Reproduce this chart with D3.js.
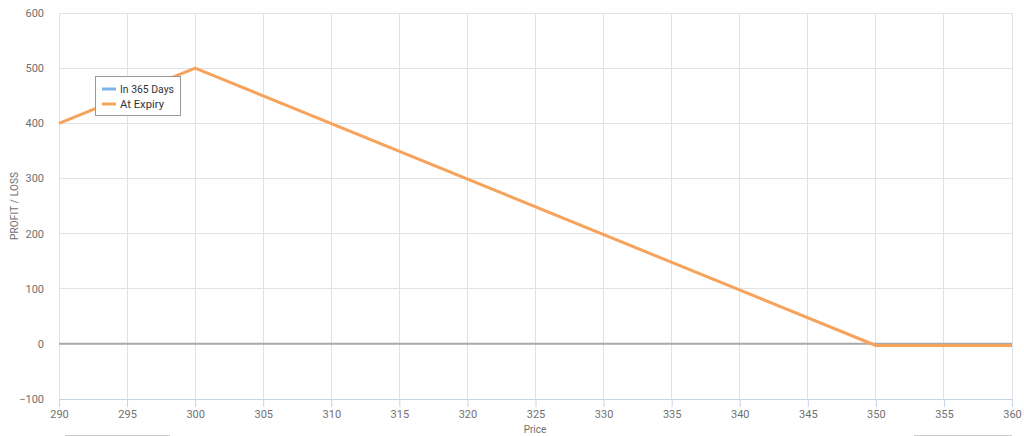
<!DOCTYPE html>
<html><head><meta charset="utf-8">
<script src="https://cdn.jsdelivr.net/npm/d3@7"></script>
<style>
body{margin:0;background:#fff;}
svg{display:block;font-family:Roboto,"DejaVu Sans Condensed",sans-serif;}
</style></head>
<body><svg id="c" width="1024" height="436"></svg>
<script>
const xTicks = [290,295,300,305,310,315,320,325,330,335,340,345,350,355,360];
const yTicks = [-100,0,100,200,300,400,500,600];
const expiryPrice = [290,300,350,360];
const expiryPL = [400,500,-3,-3];
const seriesNames = ["In 365 Days","At Expiry"];
const seriesColors = ["#7cb5ec","#f7a35c"];

const svg = d3.select("#c");
const m = {l:59, r:1012, t:13, b:399};
const x = d3.scaleLinear().domain([290,360]).range([m.l,m.r]);
const y = d3.scaleLinear().domain([-100,600]).range([m.b,m.t]);

// grid
svg.append("g").selectAll("line").data(xTicks).join("line")
  .attr("x1",d=>x(d)).attr("x2",d=>x(d)).attr("y1",m.t).attr("y2",m.b)
  .attr("stroke","#dde2e8").attr("stroke-width",1).attr("shape-rendering","crispEdges");
svg.append("g").selectAll("line").data(yTicks).join("line")
  .attr("x1",m.l).attr("x2",m.r).attr("y1",d=>y(d)).attr("y2",d=>y(d))
  .attr("stroke","#e0e4e8").attr("stroke-width",1).attr("shape-rendering","crispEdges");

// zero line
svg.append("line").attr("x1",m.l).attr("x2",m.r).attr("y1",y(0)).attr("y2",y(0))
  .attr("stroke","#a9a9a9").attr("stroke-width",2);

// x axis
const xa = svg.append("g").attr("transform",`translate(0,${m.b})`)
  .call(d3.axisBottom(x).tickValues(xTicks).tickSize(8).tickPadding(3));
xa.select(".domain").attr("stroke","#c6d4e6");
xa.selectAll(".tick line").attr("stroke","#c6d4e6");
xa.selectAll("text").attr("fill","#707070").attr("font-size",11).attr("font-family","Roboto");

// y axis labels
const ya = svg.append("g").attr("transform",`translate(${m.l},0)`)
  .call(d3.axisLeft(y).tickValues(yTicks).tickSize(0).tickPadding(15));
ya.select(".domain").remove();
ya.selectAll("text").attr("fill","#707070").attr("font-size",11).attr("font-family","Roboto");

// axis titles
svg.append("text").attr("x",535).attr("y",433).attr("text-anchor","middle")
  .attr("fill","#707070").attr("font-size",10).text("Price");
svg.append("text").attr("transform",`translate(18,${(m.t+m.b)/2}) rotate(-90)`)
  .attr("text-anchor","middle").attr("fill","#707070").attr("font-size",10)
  .attr("textLength",68).text("PROFIT / LOSS");

// expiry line
const line = d3.line().x(d=>x(d[0])).y(d=>y(d[1]));
svg.append("path").datum(expiryPrice.map((p,i)=>[p,expiryPL[i]]))
  .attr("d",line).attr("fill","none").attr("stroke",seriesColors[1]).attr("stroke-width",3)
  .attr("stroke-linejoin","round");

// bottom decorative bars
svg.append("line").attr("x1",65).attr("x2",170).attr("y1",435.5).attr("y2",435.5).attr("stroke","#ccc");
svg.append("line").attr("x1",914).attr("x2",1012).attr("y1",435.5).attr("y2",435.5).attr("stroke","#ccc");

// legend
const lg = svg.append("g").attr("transform","translate(95,76)");
lg.append("rect").attr("x",0.5).attr("y",0.5).attr("width",85).attr("height",39)
  .attr("fill","#fff").attr("stroke","#999").attr("stroke-width",1);
const tl = [54,44];
seriesNames.forEach((n,i)=>{
  const yy = 13 + i*15;
  lg.append("line").attr("x1",7).attr("x2",21).attr("y1",yy).attr("y2",yy)
    .attr("stroke",seriesColors[i]).attr("stroke-width",3);
  lg.append("text").attr("x",25).attr("y",yy+4).attr("font-size",11).attr("fill","#333")
    .attr("textLength",tl[i]).attr("lengthAdjust","spacingAndGlyphs").text(n);
});
</script></body></html>
